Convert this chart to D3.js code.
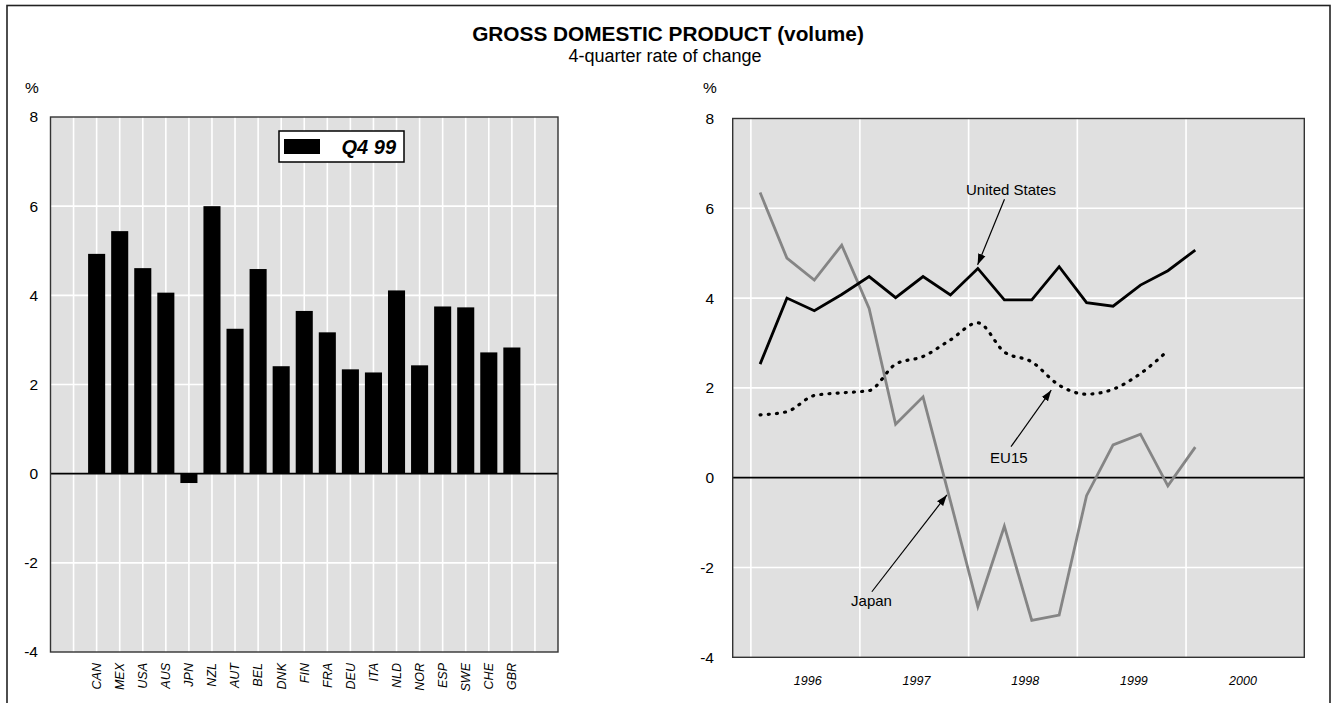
<!DOCTYPE html>
<html>
<head>
<meta charset="utf-8">
<script src="https://cdn.jsdelivr.net/npm/d3@7"></script>
<style>
  html, body { margin: 0; padding: 0; background: #fff; }
  svg { display: block; font-family: "Liberation Sans", Arial, Helvetica, sans-serif; }
</style>
</head>
<body>
<svg id="chart" width="1332" height="703"></svg>
<script>
// ---------------- DATA ----------------
const countries = ["CAN","MEX","USA","AUS","JPN","NZL","AUT","BEL","DNK","FIN","FRA","DEU","ITA","NLD","NOR","ESP","SWE","CHE","GBR"];
const q499Values = [4.93, 5.44, 4.61, 4.06, -0.21, 6.00, 3.25, 4.59, 2.41, 3.65, 3.17, 2.34, 2.27, 4.11, 2.43, 3.75, 3.73, 2.72, 2.83];
const barSeriesName = "Q4 99";

const quarters = ["Q1 96","Q2 96","Q3 96","Q4 96","Q1 97","Q2 97","Q3 97","Q4 97","Q1 98","Q2 98","Q3 98","Q4 98","Q1 99","Q2 99","Q3 99","Q4 99","Q1 00"];
const usValues    = [2.53, 4.00, 3.72, 4.08, 4.48, 4.01, 4.48, 4.07, 4.66, 3.96, 3.96, 4.70, 3.90, 3.82, 4.29, 4.61, 5.07];
const japanValues = [6.35, 4.89, 4.40, 5.18, 3.77, 1.19, 1.80, -0.52, -2.87, -1.08, -3.18, -3.06, -0.40, 0.73, 0.97, -0.18, 0.68];
const eu15Values  = [1.40, 1.47, 1.83, 1.89, 1.94, 2.53, 2.70, 3.07, 3.45, 2.80, 2.58, 2.06, 1.86, 1.97, 2.32, 2.83, null];

const yTicks = [-4, -2, 0, 2, 4, 6, 8];
const yearTicks = [1996, 1997, 1998, 1999, 2000];

const titleText = "GROSS DOMESTIC PRODUCT (volume)";
const subtitleText = "4-quarter rate of change";

// annotations in data space: [decimal year, value]
const annotations = [
  { label: "United States", text: [1998.39, 6.30], tail: [1998.33, 6.20], tip: [1998.083, 4.74] },
  { label: "EU15",          text: [1998.37, 0.32], tail: [1998.39, 0.69], tip: [1998.76, 1.95] },
  { label: "Japan",         text: [1997.107, -2.86], tail: [1997.11, -2.54], tip: [1997.80, -0.385] }
];

// ---------------- HELPERS ----------------
function quarterDate(label) {
  const q = +label.slice(1, 2);
  const yy = +label.slice(3);
  const year = yy < 50 ? 2000 + yy : 1900 + yy;
  return new Date(year, (q - 1) * 3 + 1, 1); // middle month of quarter
}
function decYear(d) {
  const y = Math.floor(d);
  const start = new Date(y, 0, 1), end = new Date(y + 1, 0, 1);
  return new Date(+start + (d - y) * (end - start));
}

const svg = d3.select("#chart");
const GRID = "#ffffff", BG = "#e0e0e0";

// outer frame
svg.append("rect").attr("x", 7).attr("y", 5.5).attr("width", 1323).attr("height", 720)
  .attr("fill", "none").attr("stroke", "#222").attr("stroke-width", 1.6);

// titles
svg.append("text").attr("x", 668).attr("y", 40.5).attr("text-anchor", "middle")
  .attr("font-size", 20.8).attr("font-weight", "bold").text(titleText);
svg.append("text").attr("x", 665).attr("y", 61.5).attr("text-anchor", "middle")
  .attr("font-size", 18).text(subtitleText);

// ---------------- LEFT PANEL (bars) ----------------
const L = { x0: 50.5, x1: 558, y0: 117, y1: 652 };
const xL = d3.scaleLinear().domain([0, countries.length + 3]).range([L.x0, L.x1]);
const yL = d3.scaleLinear().domain([-4, 8]).range([L.y1, L.y0]);
const gL = svg.append("g");

gL.append("rect").attr("x", L.x0).attr("y", L.y0).attr("width", L.x1 - L.x0).attr("height", L.y1 - L.y0).attr("fill", BG);
gL.selectAll("line.vg").data(d3.range(1, countries.length + 3)).join("line")
  .attr("x1", d => xL(d)).attr("x2", d => xL(d)).attr("y1", L.y0).attr("y2", L.y1)
  .attr("stroke", GRID).attr("stroke-width", 1.6);
gL.selectAll("line.hg").data(yTicks.filter(v => v !== 0 && v !== -4 && v !== 8)).join("line")
  .attr("x1", L.x0).attr("x2", L.x1).attr("y1", d => yL(d)).attr("y2", d => yL(d))
  .attr("stroke", GRID).attr("stroke-width", 1.6);
const barW = (xL(1) - xL(0)) * 0.74;
gL.selectAll("rect.bar").data(countries).join("rect")
  .attr("x", (d, i) => xL(i + 2) - barW / 2)
  .attr("width", barW)
  .attr("y", (d, i) => yL(Math.max(0, q499Values[i])))
  .attr("height", (d, i) => Math.abs(yL(q499Values[i]) - yL(0)))
  .attr("fill", "#000");
gL.append("line").attr("x1", L.x0).attr("x2", L.x1).attr("y1", yL(0)).attr("y2", yL(0)).attr("stroke", "#000").attr("stroke-width", 1.8);
gL.append("rect").attr("x", L.x0).attr("y", L.y0).attr("width", L.x1 - L.x0).attr("height", L.y1 - L.y0)
  .attr("fill", "none").attr("stroke", "#333").attr("stroke-width", 1.4);
gL.selectAll("text.yl").data(yTicks).join("text")
  .attr("x", 38).attr("y", d => yL(d)).attr("dy", "0.35em").attr("text-anchor", "end")
  .attr("font-size", 15.5).text(d => d);
svg.append("text").attr("x", 32).attr("y", 93).attr("text-anchor", "middle").attr("font-size", 15.5).text("%");
gL.selectAll("text.cl").data(countries).join("text")
  .attr("transform", (d, i) => `translate(${xL(i + 2)},663) rotate(-90)`)
  .attr("dy", "0.35em").attr("text-anchor", "end")
  .attr("font-size", 12.5).attr("font-style", "italic").text(d => d);
const lg = gL.append("g");
lg.append("rect").attr("x", 279).attr("y", 131).attr("width", 125).attr("height", 31)
  .attr("fill", "#fff").attr("stroke", "#000").attr("stroke-width", 1.5);
lg.append("rect").attr("x", 284).attr("y", 139).attr("width", 36).attr("height", 15).attr("fill", "#000");
lg.append("text").attr("x", 396).attr("y", 154).attr("text-anchor", "end")
  .attr("font-size", 20).attr("font-weight", "bold").attr("font-style", "italic").text(barSeriesName);

// ---------------- RIGHT PANEL (lines) ----------------
const R = { x0: 732.7, x1: 1304.3, y0: 118.5, y1: 657.3 };
const xR = d3.scaleTime().domain([new Date(1995, 10, 1), new Date(2001, 1, 1)]).range([R.x0, R.x1]);
const yR = d3.scaleLinear().domain([-4, 8]).range([R.y1, R.y0]);
const gR = svg.append("g");

gR.append("rect").attr("x", R.x0).attr("y", R.y0).attr("width", R.x1 - R.x0).attr("height", R.y1 - R.y0).attr("fill", BG);
gR.selectAll("line.vg").data(yearTicks).join("line")
  .attr("x1", d => xR(new Date(d, 0, 1))).attr("x2", d => xR(new Date(d, 0, 1)))
  .attr("y1", R.y0).attr("y2", R.y1).attr("stroke", GRID).attr("stroke-width", 1.6);
gR.selectAll("line.hg").data(yTicks.filter(v => v !== 0 && v !== -4 && v !== 8)).join("line")
  .attr("x1", R.x0).attr("x2", R.x1).attr("y1", d => yR(d)).attr("y2", d => yR(d))
  .attr("stroke", GRID).attr("stroke-width", 1.6);
gR.append("line").attr("x1", R.x0).attr("x2", R.x1).attr("y1", yR(0)).attr("y2", yR(0)).attr("stroke", "#000").attr("stroke-width", 1.8);

const qDates = quarters.map(quarterDate);
const mk = vals => vals.map((v, i) => ({ d: qDates[i], v })).filter(p => p.v !== null);

const lineStraight = d3.line().x(p => xR(p.d)).y(p => yR(p.v));
const lineSmooth = d3.line().x(p => xR(p.d)).y(p => yR(p.v)).curve(d3.curveMonotoneX);

gR.append("path").datum(mk(japanValues)).attr("d", lineStraight)
  .attr("fill", "none").attr("stroke", "#858585").attr("stroke-width", 2.8).attr("stroke-linejoin", "miter");
gR.append("path").datum(mk(eu15Values)).attr("d", lineSmooth)
  .attr("fill", "none").attr("stroke", "#000").attr("stroke-width", 3.2)
  .attr("stroke-dasharray", "1,7.2").attr("stroke-linecap", "round");
gR.append("path").datum(mk(usValues)).attr("d", lineStraight)
  .attr("fill", "none").attr("stroke", "#000").attr("stroke-width", 2.8).attr("stroke-linejoin", "miter");

gR.append("rect").attr("x", R.x0).attr("y", R.y0).attr("width", R.x1 - R.x0).attr("height", R.y1 - R.y0)
  .attr("fill", "none").attr("stroke", "#333").attr("stroke-width", 1.4);

gR.selectAll("text.yl").data(yTicks).join("text")
  .attr("x", 714).attr("y", d => yR(d)).attr("dy", "0.35em").attr("text-anchor", "end")
  .attr("font-size", 15.5).text(d => d);
svg.append("text").attr("x", 710).attr("y", 93).attr("text-anchor", "middle").attr("font-size", 15.5).text("%");
gR.selectAll("text.xl").data(yearTicks).join("text")
  .attr("x", d => xR(new Date(d, 6, 10))).attr("y", 685).attr("text-anchor", "middle")
  .attr("font-size", 12.5).attr("font-style", "italic").text(d => d);

const defs = svg.append("defs");
defs.append("marker").attr("id", "arr").attr("viewBox", "0 0 10 10").attr("refX", 10).attr("refY", 5)
  .attr("markerWidth", 11).attr("markerHeight", 11).attr("markerUnits", "userSpaceOnUse").attr("orient", "auto")
  .append("path").attr("d", "M0,1.5 L10,5 L0,8.5 Z").attr("fill", "#000");
const ag = gR.append("g");
annotations.forEach(a => {
  ag.append("line")
    .attr("x1", xR(decYear(a.tail[0]))).attr("y1", yR(a.tail[1]))
    .attr("x2", xR(decYear(a.tip[0]))).attr("y2", yR(a.tip[1]))
    .attr("stroke", "#000").attr("stroke-width", 1.2).attr("marker-end", "url(#arr)");
  ag.append("text").attr("x", xR(decYear(a.text[0]))).attr("y", yR(a.text[1]))
    .attr("text-anchor", "middle").attr("font-size", 15).text(a.label);
});
</script>
</body>
</html>
